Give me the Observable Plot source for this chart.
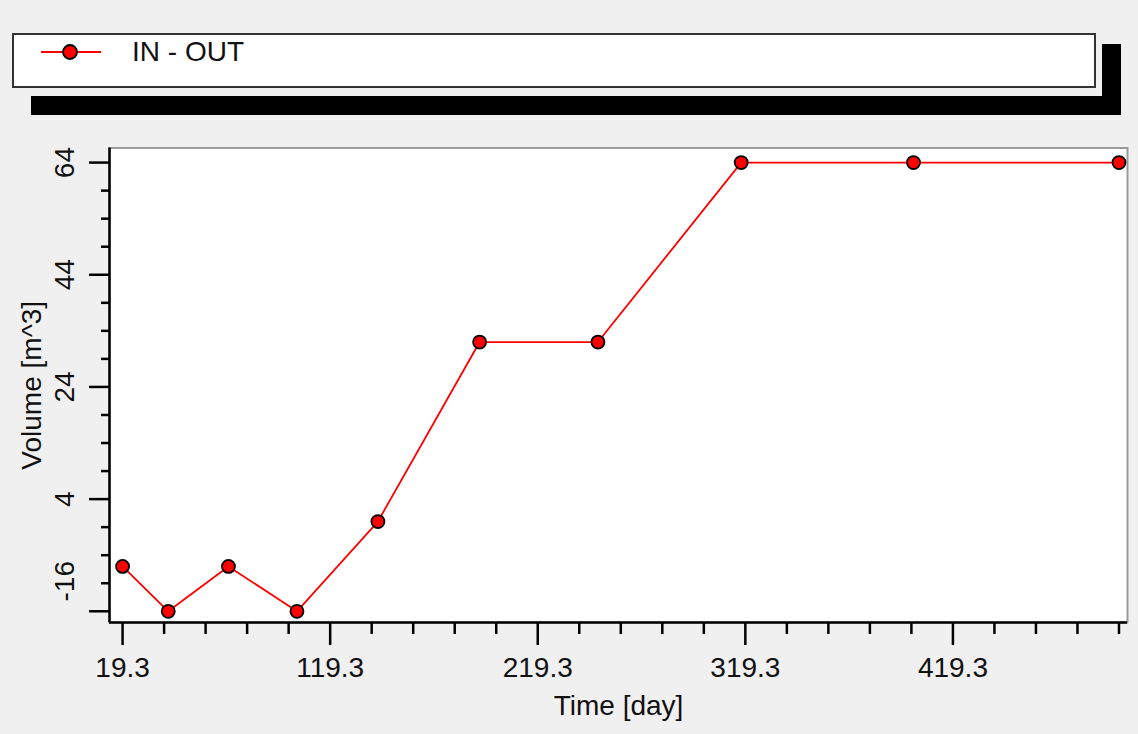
<!DOCTYPE html>
<html>
<head>
<meta charset="utf-8">
<script src="https://cdn.jsdelivr.net/npm/d3@7"></script>
<script src="https://cdn.jsdelivr.net/npm/@observablehq/plot@0.6"></script>
<style>
  html, body { margin: 0; padding: 0; background: #f0f0f0; }
  #page { position: relative; width: 1138px; height: 734px; overflow: hidden;
          font-family: "Liberation Sans", Arial, sans-serif; color: #111; }
  #legend { position: relative; width: 1138px; height: 130px; }
  #legend .box { position: absolute; left: 12px; top: 33px; width: 1080px; height: 51px;
                 background: #fff; border: 2px solid #333; }
  #legend .shadow-bottom { position: absolute; left: 31px; top: 96px; width: 1090px; height: 19px; background: #000; }
  #legend .shadow-right { position: absolute; left: 1102px; top: 44px; width: 19px; height: 71px; background: #000; }
  #legend svg { position: absolute; left: 39px; top: 43px; }
  #legend .label { position: absolute; left: 132px; top: 38px; font-size: 28px; line-height: 28px; white-space: nowrap; }
  #chart svg { display: block; }
</style>
</head>
<body>
<div id="page">
  <div id="legend">
    <div class="box"></div>
    <div class="shadow-bottom"></div>
    <div class="shadow-right"></div>
    <svg width="64" height="18" viewBox="0 0 64 18">
      <line x1="2" y1="9" x2="62" y2="9" stroke="#ff0000" stroke-width="2"></line>
      <circle cx="31" cy="9" r="7" fill="#ff0000" stroke="#000" stroke-width="1.8"></circle>
    </svg>
    <div class="label">IN - OUT</div>
  </div>
  <div id="chart"></div>
</div>
<script>
// Cumulative volume balance (IN - OUT) over time
const days   = [19.3, 41.3, 70.3, 103.3, 142.3, 191.3, 248.3, 317.3, 400.3, 499.3];
const volume = [-8, -16, -8, -16, 0, 32, 32, 64, 64, 64];

// Axis setup
const xDomain = [13.0, 503.4];
const yDomain = [-18.0, 66.6];
const xMajor = [19.3, 119.3, 219.3, 319.3, 419.3];
const xMinor = d3.range(39.3, 500, 20).filter(v => !xMajor.some(m => Math.abs(m - v) < 1e-6));
const yMajor = [-16, 4, 24, 44, 64];
const yMinor = d3.range(-16, 65, 5).filter(v => !yMajor.includes(v));

const xLabel = "Time [day]";
const yLabel = "Volume [m^3]";

const series = days.map((d, i) => ({day: d, volume: volume[i]}));

const font = "'Liberation Sans', Arial, sans-serif";

const chart = Plot.plot({
  width: 1138,
  height: 604,
  marginLeft: 109,
  marginRight: 11,
  marginTop: 17.5,
  marginBottom: 112,
  style: {background: "transparent", fontFamily: font, fontSize: "28px", color: "#111", overflow: "visible"},
  x: {domain: xDomain},
  y: {domain: yDomain},
  marks: [
    // plot area
    Plot.frame({fill: "#ffffff", stroke: "#9a9a9a", strokeWidth: 2}),
    // data
    Plot.line(series, {x: "day", y: "volume", stroke: "#ff0000", strokeWidth: 1.8}),
    Plot.dot(series, {x: "day", y: "volume", r: 6.5, fill: "#ff0000", stroke: "#000", strokeWidth: 1.8}),
    // axis lines
    Plot.ruleX([xDomain[0]], {stroke: "#000", strokeWidth: 2.5}),
    Plot.ruleY([yDomain[0]], {stroke: "#000", strokeWidth: 2.5}),
    // x ticks and labels
    Plot.axisX({ticks: xMinor, tickSize: 12, tickFormat: () => "", stroke: "#000", strokeWidth: 2.5, label: null}),
    Plot.axisX({ticks: xMajor, tickSize: 23, tickPadding: 12, tickFormat: d => d.toFixed(1),
                stroke: "#000", strokeWidth: 2.5, fontSize: 28, fill: "#111", label: null}),
    // y ticks
    Plot.axisY({ticks: yMinor, tickSize: 8, tickFormat: () => "", stroke: "#000", strokeWidth: 2.5, label: null}),
    Plot.axisY({ticks: yMajor, tickSize: 20, tickFormat: () => "", stroke: "#000", strokeWidth: 2.5, label: null}),
    // y tick labels, drawn vertically
    Plot.text(yMajor.slice(1), {y: d => d, text: d => String(d), frameAnchor: "left", dx: -44,
                                rotate: -90, textAnchor: "middle", lineAnchor: "middle", fontSize: 28, fill: "#111"}),
    Plot.text(yMajor.slice(0, 1), {y: d => d, text: d => String(d), frameAnchor: "left", dx: -44, dy: -30,
                                   rotate: -90, textAnchor: "middle", lineAnchor: "middle", fontSize: 28, fill: "#111"}),
    // axis titles
    Plot.text([yLabel], {frameAnchor: "left", dx: -77, rotate: -90, textAnchor: "middle",
                         lineAnchor: "middle", fontSize: 28, fill: "#111"}),
    Plot.text([xLabel], {frameAnchor: "bottom", dy: 84, textAnchor: "middle",
                         lineAnchor: "middle", fontSize: 28, fill: "#111"})
  ]
});

document.getElementById("chart").appendChild(chart);
</script>
</body>
</html>
